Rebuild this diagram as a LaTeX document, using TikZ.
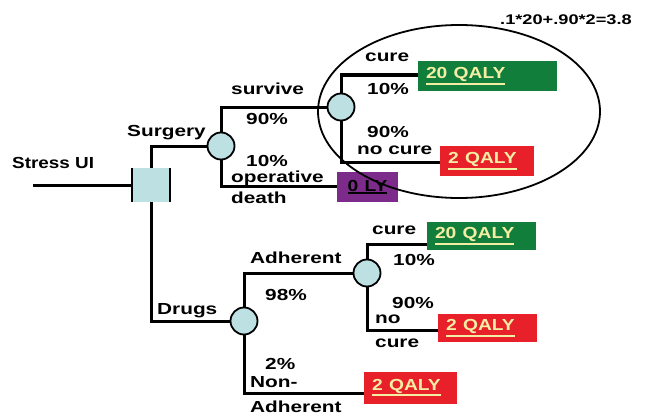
\documentclass[tikz,border=0pt]{standalone}
\usepackage{fontspec}
\setmainfont{Liberation Sans}
\usepackage{graphicx}
\definecolor{cblue}{HTML}{BDE0E3}
\definecolor{cgreen}{HTML}{127E3C}
\definecolor{cred}{HTML}{E8202A}
\definecolor{cpurple}{HTML}{7C2B8A}
\definecolor{cyell}{HTML}{F4EEA4}
\newcommand\T[2][1.3]{\scalebox{#1}[1]{#2}}
\newcommand\ulbox[1]{\leavevmode\vtop{\hbox{#1}\kern1.2pt\hrule height 1.8pt}}
\begin{document}
\begin{tikzpicture}[x=1pt,y=-1pt,
  br/.style={line width=3pt},
  chance/.style={circle, draw, line width=1.8pt, fill=cblue, minimum size=27pt, inner sep=0pt},
  lab/.style={anchor=base west, inner sep=0pt, font=\fontsize{16}{18}\selectfont\bfseries},
  outbox/.style={inner xsep=8pt, inner ysep=0pt, align=left, font=\fontsize{16}{18}\selectfont\bfseries, text=cyell},
]
\useasboundingbox (0,0) rectangle (645,420);

% decision node
\node[fill=cblue, minimum width=38pt, minimum height=34pt, inner sep=0pt] (sq) at (151,185) {};
\draw[line width=2pt] (sq.north west) -- (sq.south west) (sq.north east) -- (sq.south east);
\coordinate (start) at (33,185);

% chance nodes
\node[chance] (C1) at (221,146) {};
\node[chance] (C2) at (341,107) {};
\node[chance] (C3) at (244,321) {};
\node[chance] (C4) at (367,273) {};

% outcome boxes
\node[outbox, fill=cgreen, minimum height=30pt, text width=123pt] (G1) at (487.5,76) {\ulbox{\T[1.2]{20 QALY}}};
\node[outbox, fill=cred, minimum height=30pt, text width=78pt] (R1) at (487,161) {\ulbox{\T[1.2]{2 QALY}}};
\node[outbox, fill=cpurple, minimum height=30pt, text width=45pt, align=center, text=black] (L0) at (367.5,187) {\ulbox{\T[1.2]{0 LY}}};
\node[outbox, fill=cgreen, minimum height=28pt, text width=93pt] (G2) at (481.5,236) {\ulbox{\T[1.2]{20 QALY}}};
\node[outbox, fill=cred, minimum height=28pt, text width=83pt] (R2) at (487.5,328) {\ulbox{\T[1.2]{2 QALY}}};
\node[outbox, fill=cred, minimum height=32pt, text width=77pt] (R3) at (410.5,387.5) {\ulbox{\T[1.2]{2 QALY}}};

% connectors
\draw[br] (start) -- (sq.west);
\draw[br] (sq.north) |- (C1);
\draw[br] (sq.south) |- (C3);
\draw[br] (C1.north) |- (C2.west);
\draw[br] (C1.south) |- ([yshift=1pt]L0.west);
\draw[br] (C2.north) |- ([yshift=1pt]G1.west);
\draw[br] (C2.south) |- ([yshift=-1pt]R1.west);
\draw[br] (C3.north) |- (C4.west);
\draw[br] (C3.south) |- ([yshift=-5.5pt]R3.west);
\draw[br] (C4.north) |- ([yshift=-8pt]G2.west);
\draw[br] (C4.south) |- ([yshift=-2pt]R2.west);

% labels
\node[lab] (tStress) at (12,168) {\T[1.18]{Stress UI}};
\node[lab] (tSurg) at (127,136) {\T{Surgery}};
\node[lab] (tSurv) at (231,95) {\T{survive}};
\node[lab] (tP90a) at (246,124) {\T{90\%}};
\node[lab] (tP10a) at (246,166) {\T{10\%}};
\node[lab] (tOper) at (231,182) {\T{operative}};
\node[lab] (tDeath) at (231,203) {\T{death}};
\node[lab] (tCure1) at (365,62) {\T{cure}};
\node[lab] (tP10b) at (367,95) {\T{10\%}};
\node[lab] (tP90b) at (367,137) {\T{90\%}};
\node[lab] (tNoCure1) at (357,154) {\T{no cure}};
\node[lab] (tDrugs) at (157,314) {\T{Drugs}};
\node[lab] (tAdh) at (250,263) {\T{Adherent}};
\node[lab] (tP98) at (265,300) {\T{98\%}};
\node[lab] (tCure2) at (372,234) {\T{cure}};
\node[lab] (tP10c) at (393,265) {\T{10\%}};
\node[lab] (tP90c) at (392,308) {\T{90\%}};
\node[lab] (tNo) at (375,323) {\T{no}};
\node[lab] (tCure3) at (375,347) {\T{cure}};
\node[lab] (tP2) at (265,369) {\T{2\%}};
\node[lab] (tNon) at (250,387) {\T{Non-}};
\node[lab] (tAdh2) at (250,412) {\T{Adherent}};
\node[lab, font=\fontsize{14}{16}\selectfont\bfseries] (tFormula) at (500,25) {\T[1.3]{.1*20+.90*2=3.8}};

% highlight ellipse
\draw[line width=1.8pt] (459,111.5) ellipse [x radius=141, y radius=86.5];
\end{tikzpicture}
\end{document}
